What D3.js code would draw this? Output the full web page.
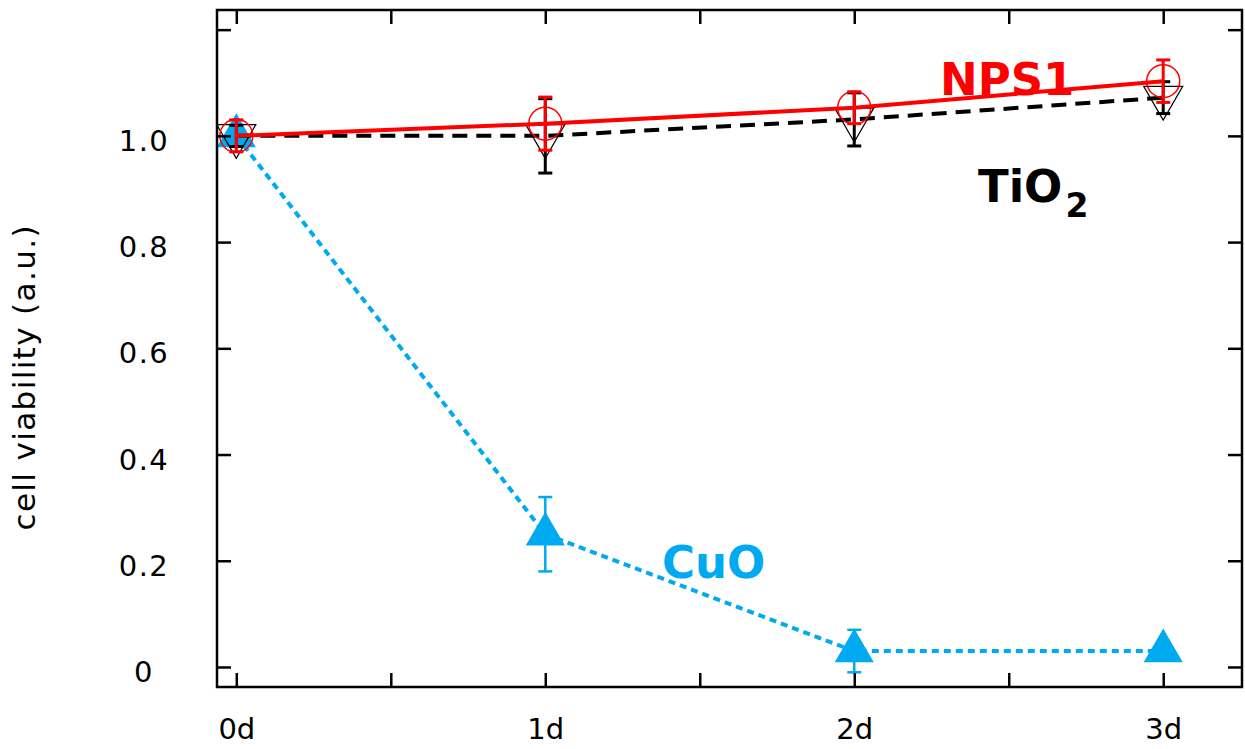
<!DOCTYPE html>
<html>
<head>
<meta charset="utf-8">
<script src="https://cdn.jsdelivr.net/npm/d3@7"></script>
<style>
  body { margin: 0; background: #fff; }
  svg { display: block; font-family: "DejaVu Sans", Verdana, sans-serif; }
</style>
</head>
<body>
<svg width="1245" height="749"></svg>
<script>
// days on the x axis
var days = [0, 1, 2, 3];
var xTicks = [0, 0.5, 1, 1.5, 2, 2.5, 3];
var yTicks = [0, 0.2, 0.4, 0.6, 0.8, 1.0, 1.2];

// cell viability per series (value, error)
var nps1 = [1.0, 1.023, 1.053, 1.103];
var nps1Err = [0.03, 0.05, 0.03, 0.04];
var tio2 = [1.0, 1.0, 1.031, 1.072];
var tio2Err = [0.02, 0.07, 0.05, 0.03];
var cuo = [1.0, 0.25, 0.03, 0.03];
var cuoErr = [0.03, 0.07, 0.04, 0.005];

var red = "#ff0000", blue = "#00aaf0", black = "#000";

var svg = d3.select("svg"),
    plotL = 217, plotR = 1242, plotT = 10, plotB = 687;

var x = d3.scaleLinear().domain([-0.0625, 3.255]).range([plotL, plotR]);
var y = d3.scaleLinear().domain([-0.0377, 1.237]).range([plotB, plotT]);

function rows(vals, errs) {
    return days.map(function(d, i) { return {day: d, v: vals[i], e: errs[i]}; });
}

var line = d3.line()
    .x(function(d) { return x(d.day); })
    .y(function(d) { return y(d.v); });

function errorBars(data, color, width) {
    var g = svg.append("g").attr("stroke", color).attr("stroke-width", width);
    g.selectAll(".bar").data(data).enter().append("line")
        .attr("x1", function(d) { return x(d.day); })
        .attr("x2", function(d) { return x(d.day); })
        .attr("y1", function(d) { return y(d.v - d.e); })
        .attr("y2", function(d) { return y(d.v + d.e); });
    [-1, 1].forEach(function(s) {
        g.selectAll(".cap" + s).data(data).enter().append("line")
            .attr("x1", function(d) { return x(d.day) - 7; })
            .attr("x2", function(d) { return x(d.day) + 7; })
            .attr("y1", function(d) { return y(d.v + s * d.e); })
            .attr("y2", function(d) { return y(d.v + s * d.e); });
    });
}

var tri = d3.symbol().type(d3.symbolTriangle).size(660);

// CuO
var cuoData = rows(cuo, cuoErr);
svg.append("path").datum(cuoData)
    .attr("d", line).attr("fill", "none")
    .attr("stroke", blue).attr("stroke-width", 4).attr("stroke-dasharray", "7,5");
errorBars(cuoData, blue, 2.5);
svg.selectAll(".cuo").data(cuoData).enter().append("path")
    .attr("transform", function(d) { return "translate(" + x(d.day) + "," + y(d.v) + ")"; })
    .attr("d", tri).attr("fill", blue);

// TiO2
var tioData = rows(tio2, tio2Err);
svg.append("path").datum(tioData)
    .attr("d", line).attr("fill", "none")
    .attr("stroke", black).attr("stroke-width", 4).attr("stroke-dasharray", "15,9");
errorBars(tioData, black, 3);
svg.selectAll(".tio").data(tioData).enter().append("path")
    .attr("transform", function(d) { return "translate(" + x(d.day) + "," + y(d.v) + ") rotate(180)"; })
    .attr("d", tri).attr("fill", "none").attr("stroke", black).attr("stroke-width", 1.2);

// NPS1
var npsData = rows(nps1, nps1Err);
svg.append("path").datum(npsData)
    .attr("d", line).attr("fill", "none")
    .attr("stroke", red).attr("stroke-width", 4);
svg.selectAll(".nps").data(npsData).enter().append("circle")
    .attr("cx", function(d) { return x(d.day); })
    .attr("cy", function(d) { return y(d.v); })
    .attr("r", 16.5).attr("fill", "none").attr("stroke", red).attr("stroke-width", 1.5);
errorBars(npsData, red, 3);

// axes, ticks pointing inward
var gx = svg.append("g")
    .attr("transform", "translate(0," + plotB + ")")
    .call(d3.axisBottom(x).tickValues(xTicks).tickSize(-14).tickPadding(31)
        .tickFormat(function(d) { return d % 1 === 0 ? d + "d" : ""; }));

svg.append("g")
    .attr("transform", "translate(0," + plotT + ")")
    .call(d3.axisTop(x).tickValues(xTicks).tickSize(-14).tickFormat(""));

var gy = svg.append("g")
    .attr("transform", "translate(" + plotL + ",0)")
    .call(d3.axisLeft(y).tickValues(yTicks).tickSize(-14).tickPadding(73)
        .tickFormat(function(d) { return d === 0 ? "0" : (d > 1.1 ? "" : d.toFixed(1)); }));
gy.selectAll("text")
    .style("letter-spacing", "1.5px")
    .attr("text-anchor", "middle")
    .attr("dy", "0.5em");

svg.append("g")
    .attr("transform", "translate(" + plotR + ",0)")
    .call(d3.axisRight(y).tickValues(yTicks).tickSize(-14).tickFormat(""));

svg.selectAll(".tick text")
    .style("font-family", "'DejaVu Sans', Verdana, sans-serif")
    .style("font-size", "29px")
    .attr("fill", black);
svg.selectAll(".domain").remove();
svg.selectAll(".tick line").attr("stroke", black).attr("stroke-width", 2.5);

svg.append("rect")
    .attr("x", plotL).attr("y", plotT)
    .attr("width", plotR - plotL).attr("height", plotB - plotT)
    .attr("fill", "none").attr("stroke", black).attr("stroke-width", 2.5);

// y axis title
svg.append("text")
    .attr("transform", "translate(35," + 378 + ") rotate(-90)")
    .attr("text-anchor", "middle")
    .attr("textLength", 305)
    .attr("lengthAdjust", "spacing")
    .style("font-size", "31px")
    .text("cell viability (a.u.)");

// series labels
svg.append("text").attr("x", 940).attr("y", 95)
    .attr("fill", red).style("font-size", "45px").style("font-weight", "bold")
    .text("NPS1");
var t = svg.append("text").attr("x", 978).attr("y", 202)
    .attr("fill", black).style("font-size", "45px").style("font-weight", "bold");
t.append("tspan").text("TiO");
t.append("tspan").attr("dx", 3).attr("dy", 15).style("font-size", "33px").text("2");
svg.append("text").attr("x", 662).attr("y", 578)
    .attr("fill", blue).style("font-size", "45px").style("font-weight", "bold")
    .text("CuO");
</script>
</body>
</html>
